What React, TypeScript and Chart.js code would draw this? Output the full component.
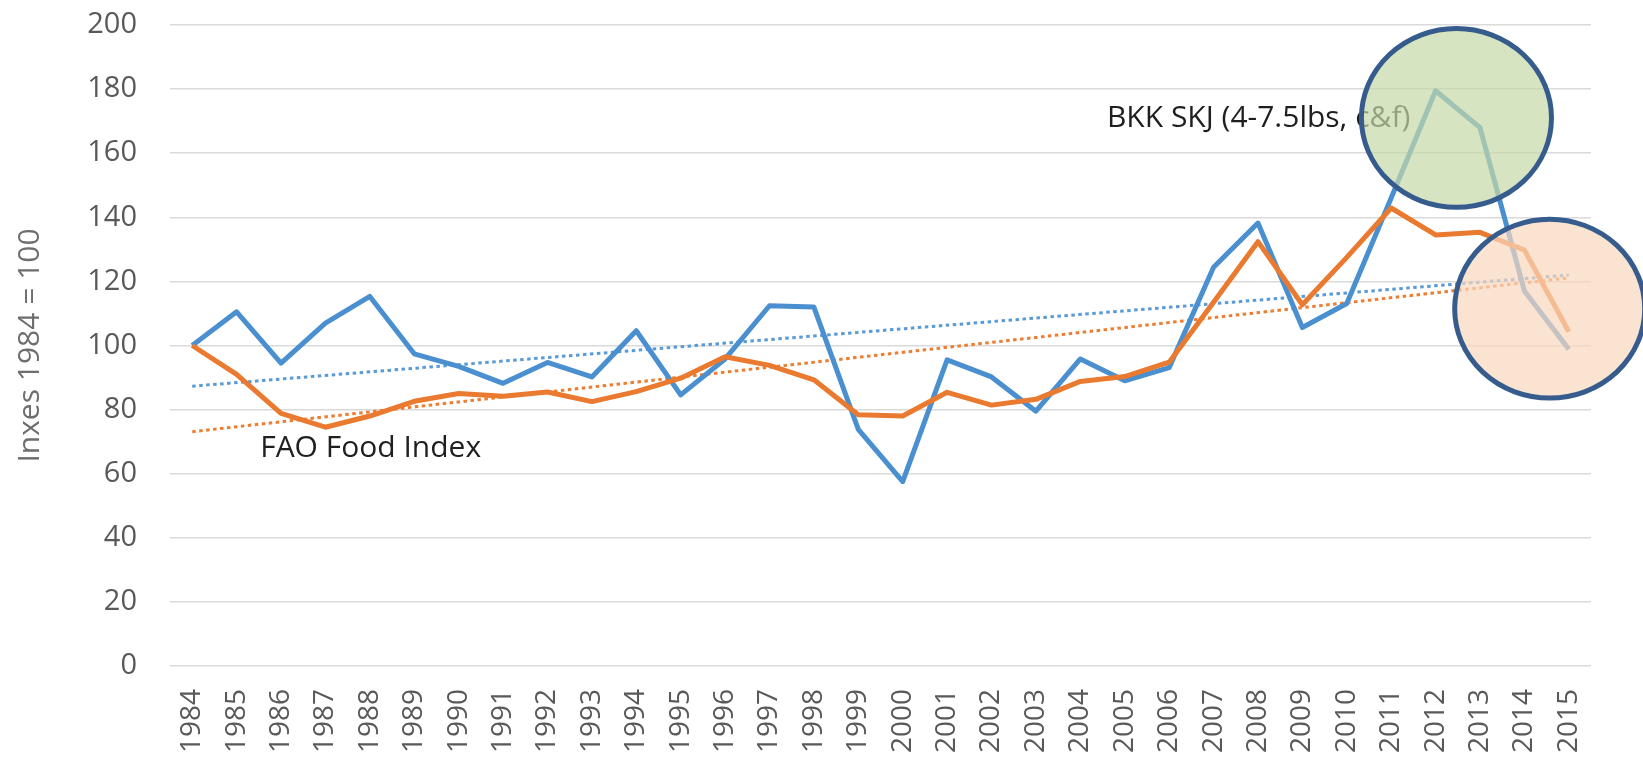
import React, { useEffect, useRef } from "react";
import { Chart, registerables } from "chart.js";

Chart.register(...registerables);

// ---- Data ----
const years = [
  "1984", "1985", "1986", "1987", "1988", "1989", "1990", "1991",
  "1992", "1993", "1994", "1995", "1996", "1997", "1998", "1999",
  "2000", "2001", "2002", "2003", "2004", "2005", "2006", "2007",
  "2008", "2009", "2010", "2011", "2012", "2013", "2014", "2015",
];

// BKK SKJ (4-7.5lbs, c&f) index
const bkkSkj = [
  100, 110.5, 94.5, 107, 115.3, 97.4, 93.5, 88.2,
  94.7, 90.2, 104.6, 84.6, 95.8, 112.4, 112, 73.8,
  57.5, 95.5, 90.2, 79.5, 95.8, 89, 93.1, 124.4,
  138.2, 105.6, 113.1, 146, 179.5, 168, 117, 98.8,
];

// FAO Food Index
const faoFood = [
  100, 91, 78.8, 74.5, 78, 82.6, 85, 84.2,
  85.5, 82.5, 85.6, 89.8, 96.5, 93.8, 89.3, 78.4,
  78, 85.4, 81.4, 83.2, 88.8, 90.3, 94.8, 113.5,
  132.4, 112.7, 127.5, 142.9, 134.5, 135.3, 129.8, 104.3,
];

// Linear trend lines: values at first (1984) and last (2015) year
const bkkTrendEnds = [87.3, 122];
const faoTrendEnds = [73.1, 121.1];

const yTicksMin = 0;
const yTicksMax = 200;
const yTicksStep = 20;
const yAxisTitle = "Inxes 1984 = 100";

// Annotations (anchored in data space: category index, value)
const noteTexts = ["FAO Food Index", "BKK SKJ (4-7.5lbs, c&f)"];
const noteIndex = [1.53, 20.6];
const noteValue = [65.2, 168.2];

const circleIndex = [28.47, 30.57];
const circleValue = [171, 111.5];
const circleIndexRadius = [2.14, 2.14];
const circleValueRadius = [27.9, 27.9];
const circleFills = ["rgba(198,216,166,0.7)", "rgba(249,215,189,0.7)"];

const trendSeries = (ends: number[]) =>
  years.map((_, i) => (i === 0 ? ends[0] : i === years.length - 1 ? ends[1] : null));

const FONT = '"Open Sans", "Noto Sans", sans-serif';

const annotationPlugin = {
  id: "annotations",
  afterDatasetsDraw(chart: any) {
    const { ctx, scales } = chart;
    const x = scales.x;
    const y = scales.y;
    ctx.save();
    ctx.font = `30px ${FONT}`;
    ctx.fillStyle = "#1f1f1f";
    ctx.textAlign = "left";
    ctx.textBaseline = "alphabetic";
    noteTexts.forEach((t, i) => {
      ctx.fillText(t, x.getPixelForValue(noteIndex[i]), y.getPixelForValue(noteValue[i]));
    });
    circleIndex.forEach((ci, i) => {
      const cx = x.getPixelForValue(ci);
      const cy = y.getPixelForValue(circleValue[i]);
      const rx = Math.abs(x.getPixelForValue(ci + circleIndexRadius[i]) - cx);
      const ry = Math.abs(y.getPixelForValue(circleValue[i] + circleValueRadius[i]) - cy);
      ctx.beginPath();
      ctx.ellipse(cx, cy, rx, ry, 0, 0, Math.PI * 2);
      ctx.fillStyle = circleFills[i];
      ctx.fill();
      ctx.lineWidth = 5;
      ctx.strokeStyle = "#365c8d";
      ctx.stroke();
    });
    ctx.restore();
  },
};

export default function App() {
  const canvasRef = useRef<HTMLCanvasElement | null>(null);

  useEffect(() => {
    if (!canvasRef.current) return;
    const chart = new Chart(canvasRef.current, {
      type: "line",
      data: {
        labels: years,
        datasets: [
          {
            label: "FAO Food Index",
            data: faoFood,
            borderColor: "#e97a2f",
            borderWidth: 5,
            pointRadius: 0,
            tension: 0,
            borderJoinStyle: "round",
            order: 0,
          },
          {
            label: "BKK SKJ (4-7.5lbs, c&f)",
            data: bkkSkj,
            borderColor: "#4a8fd0",
            borderWidth: 5,
            pointRadius: 0,
            tension: 0,
            borderJoinStyle: "round",
            order: 1,
          },
          {
            label: "BKK trend",
            data: trendSeries(bkkTrendEnds),
            borderColor: "#5b9bd5",
            borderWidth: 3,
            borderDash: [3.5, 3.5],
            pointRadius: 0,
            spanGaps: true,
            order: 2,
          },
          {
            label: "FAO trend",
            data: trendSeries(faoTrendEnds),
            borderColor: "#ed7d31",
            borderWidth: 3,
            borderDash: [3.5, 3.5],
            pointRadius: 0,
            spanGaps: true,
            order: 3,
          },
        ],
      },
      options: {
        responsive: false,
        animation: false,
        layout: { padding: { top: 25, right: 52, left: 0, bottom: 0 } },
        plugins: {
          legend: { display: false },
          tooltip: { enabled: false },
          title: { display: false },
        },
        scales: {
          x: {
            type: "category",
            offset: true,
            grid: { display: false, drawTicks: false, tickLength: 0 },
            border: { display: false },
            ticks: {
              minRotation: 90,
              maxRotation: 90,
              autoSkip: false,
              padding: 23,
              color: "#595959",
              font: { family: FONT, size: 28 },
            },
            afterFit(scale: any) {
              scale.height = 96;
              scale.paddingTop = 0;
              scale.paddingBottom = 0;
              scale.paddingLeft = 0;
              scale.paddingRight = 0;
            },
          },
          y: {
            min: yTicksMin,
            max: yTicksMax,
            grid: { color: "#dadada", lineWidth: 1.5, drawTicks: false, tickLength: 0 },
            border: { display: false },
            ticks: {
              stepSize: yTicksStep,
              padding: 33,
              color: "#595959",
              font: { family: FONT, size: 29 },
            },
            title: {
              display: true,
              text: yAxisTitle,
              color: "#6e6e6e",
              font: { family: FONT, size: 30 },
              padding: { top: 12, bottom: 0 },
            },
            afterFit(scale: any) {
              scale.width = 170;
              scale.paddingTop = 0;
              scale.paddingBottom = 0;
              scale.paddingLeft = 0;
              scale.paddingRight = 0;
            },
          },
        },
      },
      plugins: [annotationPlugin],
    });
    return () => chart.destroy();
  }, []);

  return (
    <div style={{ position: "absolute", left: 0, top: 0, width: 1643, height: 762, background: "#fff" }}>
      <canvas ref={canvasRef} width={1643} height={762} style={{ display: "block" }} />
    </div>
  );
}
